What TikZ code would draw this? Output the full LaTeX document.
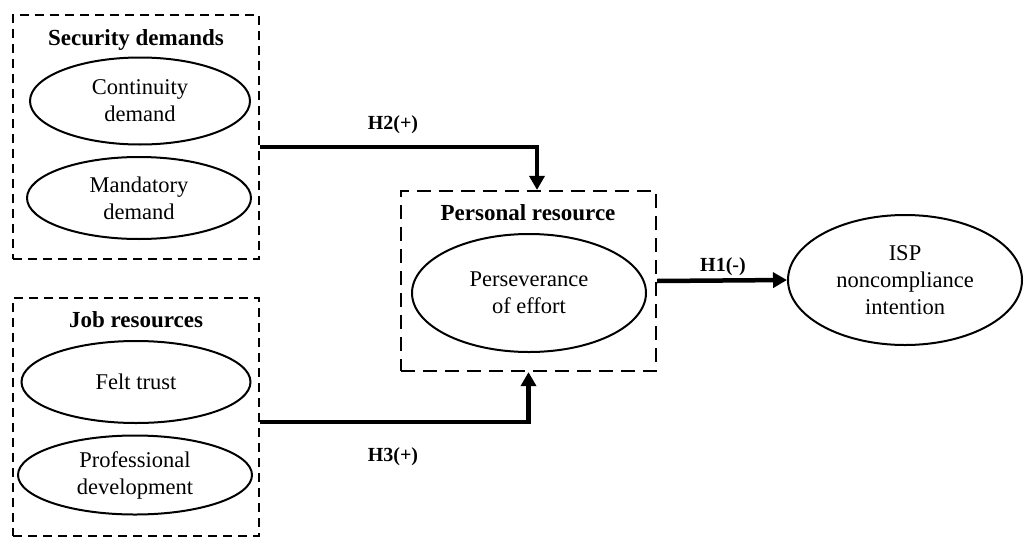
\documentclass[tikz,border=0pt]{standalone}
\usepackage{fontspec}
\setmainfont{Liberation Serif}
\usetikzlibrary{arrows.meta,calc,shapes.geometric}
\tikzset{
  grp/.style={draw, line width=2.4pt, dash pattern=on 9pt off 6pt, rectangle, inner sep=0pt},
  grpb/.style={draw, line width=2.2pt, dash pattern=on 14pt off 8pt, rectangle, inner sep=0pt},
  construct/.style={draw, ellipse, line width=2pt, inner sep=0pt, align=center, font=\fontsize{22.5}{27}\selectfont},
  ttl/.style={font=\fontsize{23}{27}\selectfont\bfseries, inner sep=0pt},
  hyp/.style={font=\fontsize{20}{24}\selectfont\bfseries, inner sep=0pt},
  link/.style={line width=4.5pt, -{Triangle[length=14pt,width=15pt]}},
}
\begin{document}
\begin{tikzpicture}[x=1pt,y=-1pt]
\useasboundingbox (0,0) rectangle (1024,538);
% group boxes
\node[grp, minimum width=246pt, minimum height=244pt] (sec) at (136,137) {};
\node[grp, minimum width=246pt, minimum height=238pt] (job) at (136,417) {};
\node[grpb, minimum width=255pt, minimum height=180pt] (pers) at (528.5,281) {};
% titles
\node[ttl] (sectitle) at (136,40) {Security demands};
\node[ttl] (jobtitle) at (136,320) {Job resources};
\node[ttl] (perstitle) at (528,213) {Personal resource};
% constructs
\node[construct, minimum width=220pt, minimum height=87pt] (cont) at (140,101) {Continuity\\demand};
\node[construct, minimum width=224pt, minimum height=82pt] (mand) at (139,198) {Mandatory\\demand};
\node[construct, minimum width=229pt, minimum height=82pt] (felt) at (136,382) {Felt trust};
\node[construct, minimum width=234pt, minimum height=79pt] (prof) at (135,475) {Professional\\development};
\node[construct, minimum width=234pt, minimum height=118pt] (persev) at (529,293) {Perseverance\\of effort};
\node[construct, minimum width=234pt, minimum height=130pt] (isp) at (905,280) {ISP\\noncompliance\\intention};
% connectors
\coordinate (h2start) at ($(sec.east)+(0,10)$);
\coordinate (h2end) at ($(pers.north)+(8.5,0)$);
\draw[link] (h2start) -| (h2end);
\coordinate (h3start) at ($(job.east)+(0,5)$);
\draw[link] (h3start) -| (pers.south);
\draw[link] (pers.east) -- (isp.west);
% hypothesis labels
\node[hyp] (h2) at (393,125) {H2(+)};
\node[hyp] (h3) at (393,457) {H3(+)};
\node[hyp] (h1) at (723,267) {H1(-)};
\end{tikzpicture}
\end{document}
